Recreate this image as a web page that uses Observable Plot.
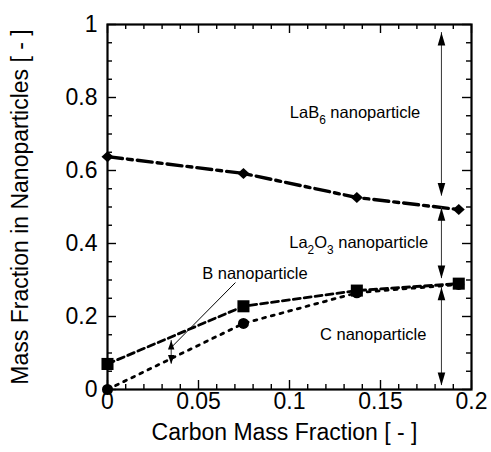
<!DOCTYPE html>
<html><head><meta charset="utf-8">
<script src="https://cdn.jsdelivr.net/npm/d3@7"></script>
<script src="https://cdn.jsdelivr.net/npm/@observablehq/plot@0.6"></script>
<style>body{margin:0;background:#fff}</style>
</head><body><div id="chart"></div>
<script>
// ---- data ----
const carbonFraction = [0, 0.0747, 0.137, 0.193];
const lab6Boundary  = [0.638, 0.592, 0.526, 0.493];   // diamonds, dash-dot
const la2o3Boundary = [0.070, 0.228, 0.271, 0.290];   // squares, dashed
const cBoundary     = [0.000, 0.181, 0.265, 0.288];   // circles, dotted

const xTicks = [0, 0.05, 0.1, 0.15, 0.2];
const yTicks = [0, 0.2, 0.4, 0.6, 0.8, 1];
const xMinor = [0.01,0.02,0.03,0.04,0.06,0.07,0.08,0.09,0.11,0.12,0.13,0.14,0.16,0.17,0.18,0.19];
const yMinor = [0.05,0.1,0.15,0.25,0.3,0.35,0.45,0.5,0.55,0.65,0.7,0.75,0.85,0.9,0.95];

const labelText = ["LaB_6 nanoparticle", "La_2O_3 nanoparticle", "B nanoparticle", "C nanoparticle"];
const labelX = [0.136, 0.138, 0.081, 0.146];
const labelY = [0.759, 0.403, 0.318, 0.151];

const arrowX      = [0.1835, 0.1835, 0.1835, 0.035];
const arrowTop    = [0.978, 0.498, 0.280, 0.134];
const arrowBottom = [0.530, 0.304, 0.011, 0.070];
const arrowSmall  = [false, false, false, true];

const leaderX = [0.0703, 0.035];
const leaderY = [0.293, 0.115];

const xTitle = "Carbon Mass Fraction [ - ]";
const yTitle = "Mass Fraction in Nanoparticles [ - ]";

// ---- layout ----
const WIDTH = 491, HEIGHT = 452;
const ML = 107, MR = 20, MT = 24, MB = 63;
const W = WIDTH - ML - MR, H = HEIGHT - MT - MB;
const MAJ = 9, MIN = 5;

const rows = carbonFraction.map((x, i) => ({x, lab6: lab6Boundary[i], la2o3: la2o3Boundary[i], c: cBoundary[i]}));
const labels = labelText.map((t, i) => ({t, x: labelX[i], y: labelY[i]}));
const arrows = arrowX.map((x, i) => ({x, top: arrowTop[i], bottom: arrowBottom[i], small: arrowSmall[i]}));
const leader = [{x1: leaderX[0], y1: leaderY[0], x2: leaderX[1], y2: leaderY[1]}];

const fmt = d => String(+d.toFixed(2));

const head = (w, h, up) => ({draw(ctx) {
  const s = up ? 1 : -1;
  ctx.moveTo(0, 0); ctx.lineTo(w, s * h); ctx.lineTo(-w, s * h); ctx.closePath();
}});
const diamond = {draw(ctx) { ctx.moveTo(0, -5.5); ctx.lineTo(6, 0); ctx.lineTo(0, 5.5); ctx.lineTo(-6, 0); ctx.closePath(); }};

const big = arrows.filter(a => !a.small), small = arrows.filter(a => a.small);

const chart = Plot.plot({
  width: WIDTH, height: HEIGHT,
  marginLeft: ML, marginRight: MR, marginTop: MT, marginBottom: MB,
  x: {domain: [0, 0.2]},
  y: {domain: [0, 1]},
  style: {fontFamily: "'Liberation Sans', Arial, sans-serif", background: "white", color: "black"},
  marks: [
    // tick labels
    Plot.axisX(xTicks, {anchor: "bottom", tickSize: 0, tickPadding: 3, tickFormat: fmt, fontSize: 23, label: null}),
    Plot.axisY(yTicks, {anchor: "left", tickSize: 0, tickPadding: 10, tickFormat: fmt, fontSize: 23, label: null}),
    // inward ticks on all sides
    Plot.tickX(xMinor, {x: d => d, insetTop: H - MIN, stroke: "black", strokeWidth: 1.4}),
    Plot.tickX(xTicks, {x: d => d, insetTop: H - MAJ, stroke: "black", strokeWidth: 1.4}),
    Plot.tickX(xMinor, {x: d => d, insetBottom: H - MIN, stroke: "black", strokeWidth: 1.4}),
    Plot.tickX(xTicks, {x: d => d, insetBottom: H - MAJ, stroke: "black", strokeWidth: 1.4}),
    Plot.tickY(yMinor, {y: d => d, insetRight: W - MIN, stroke: "black", strokeWidth: 1.4}),
    Plot.tickY(yTicks, {y: d => d, insetRight: W - MAJ, stroke: "black", strokeWidth: 1.4}),
    Plot.tickY(yMinor, {y: d => d, insetLeft: W - MIN, stroke: "black", strokeWidth: 1.4}),
    Plot.tickY(yTicks, {y: d => d, insetLeft: W - MAJ, stroke: "black", strokeWidth: 1.4}),
    Plot.frame({stroke: "black", strokeWidth: 2.2}),
    // series lines
    Plot.line(rows, {x: "x", y: "lab6", stroke: "black", strokeWidth: 3.4, strokeDasharray: "15,5,5,5"}),
    Plot.line(rows, {x: "x", y: "c", stroke: "black", strokeWidth: 2.8, strokeDasharray: "3,6"}),
    Plot.line(rows, {x: "x", y: "la2o3", stroke: "black", strokeWidth: 2.8, strokeDasharray: "7,4"}),
    // markers
    Plot.dot(rows, {x: "x", y: "c", r: 5.5, fill: "black", stroke: "none"}),
    Plot.dot(rows, {x: "x", y: "la2o3", symbol: "square", r: 6.8, fill: "black", stroke: "none"}),
    Plot.dot(rows, {x: "x", y: "lab6", symbol: diamond, fill: "black", stroke: "none"}),
    // double arrows
    Plot.ruleX(arrows, {x: "x", y1: "bottom", y2: "top", stroke: "#444", strokeWidth: 1.1}),
    Plot.dot(big, {x: "x", y: "top", symbol: head(3.8, 13, true), fill: "black", stroke: "none"}),
    Plot.dot(big, {x: "x", y: "bottom", symbol: head(3.8, 13, false), fill: "black", stroke: "none"}),
    Plot.dot(small, {x: "x", y: "top", symbol: head(3.2, 9, true), fill: "black", stroke: "none"}),
    Plot.dot(small, {x: "x", y: "bottom", symbol: head(3.2, 9, false), fill: "black", stroke: "none"}),
    Plot.link(leader, {x1: "x1", y1: "y1", x2: "x2", y2: "y2", stroke: "black", strokeWidth: 1}),
    // annotations
    Plot.text(labels, {x: "x", y: "y", text: "t", fontSize: 16.5, textAnchor: "middle", fill: "black"}),
    // axis titles
    Plot.text([xTitle], {text: d => d, frameAnchor: "bottom", dy: 50, dx: -5, fontSize: 23, textAnchor: "middle", fill: "black"}),
    Plot.text([yTitle], {text: d => d, frameAnchor: "left", dx: -86.5, rotate: -90, fontSize: 23, textAnchor: "middle", fill: "black"})
  ]
});

// subscripts: "_d" -> lowered small digit
const NS = "http://www.w3.org/2000/svg";
chart.querySelectorAll("text").forEach(t => {
  if (t.children.length === 0 && /_\d/.test(t.textContent)) {
    const parts = t.textContent.split(/_(\d)/);
    t.textContent = "";
    parts.forEach((p, i) => {
      if (p === "") return;
      const ts = document.createElementNS(NS, "tspan");
      ts.textContent = p;
      if (i % 2 === 1) { ts.setAttribute("font-size", "0.72em"); ts.setAttribute("baseline-shift", "-0.5em"); }
      t.appendChild(ts);
    });
  }
});

document.getElementById("chart").appendChild(chart);
</script>
</body></html>
